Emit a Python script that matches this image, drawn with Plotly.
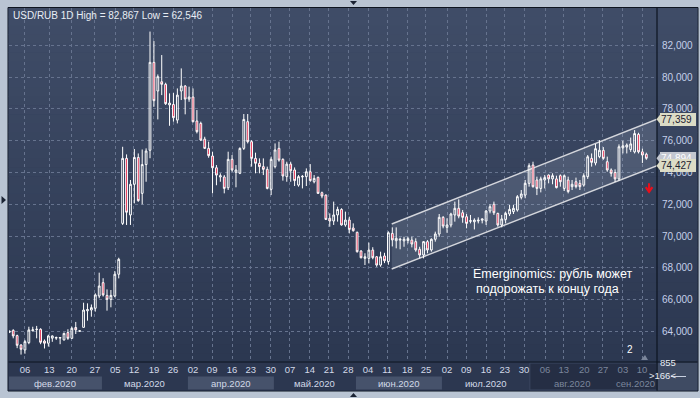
import numpy as np
import plotly.graph_objects as go

# ---------------- data ----------------
opens = [63.95, 64.07, 63.74, 63.15, 62.84, 63.30, 64.05, 64.12, 64.14, 63.40,
         63.26, 63.58, 63.58, 63.58, 63.47, 63.93, 63.57, 64.25, 64.01, 64.26,
         65.30, 65.35, 65.46, 66.23, 67.07, 66.27, 66.02, 66.23, 67.60, 70.80,
         74.89, 71.33, 73.26, 74.95, 72.69, 74.50, 75.40, 80.93, 79.13, 79.71,
         79.55, 78.25, 78.28, 77.30, 79.13, 79.44, 78.62, 78.75, 77.24, 77.09,
         76.10, 75.52, 75.04, 74.30, 73.72, 73.72, 73.04, 74.83, 74.01, 73.95,
         75.52, 77.20, 75.94, 74.89, 74.58, 74.37, 74.20, 72.94, 74.37, 75.52,
         74.83, 73.74, 74.53, 74.16, 73.21, 73.72, 73.74, 74.05, 73.42, 73.70,
         72.73, 72.58, 71.12, 70.95, 71.33, 71.68, 70.70, 71.01, 70.51, 70.24,
         69.06, 68.60, 68.60, 69.12, 68.70, 68.18, 68.75, 68.40, 70.17, 69.71,
         69.75, 69.70, 69.72, 69.75, 69.65, 69.17, 68.81, 69.65, 69.13, 69.80,
         70.13, 71.18, 70.55, 70.70, 71.33, 71.75, 71.47, 71.22, 70.93, 70.90,
         70.95, 71.00, 70.95, 71.58, 72.00, 71.43, 70.70, 71.05, 71.39, 71.54,
         71.64, 72.44, 72.58, 73.32, 74.47, 73.53, 73.00, 73.53, 73.84, 73.60,
         73.60, 73.80, 73.00, 73.53, 73.11, 73.42, 73.32, 73.21, 73.74, 74.89,
         74.60, 75.00, 75.40, 74.68, 74.16, 74.00, 73.60, 75.55, 75.60, 75.45,
         75.30, 76.40, 75.30, 75.15]
highs = [64.05, 64.14, 63.80, 63.20, 63.47, 64.30, 64.30, 64.35, 64.20, 63.50,
         63.80, 63.75, 63.68, 63.64, 63.93, 64.14, 64.30, 64.60, 64.05, 65.81,
         65.77, 65.70, 66.40, 67.70, 67.35, 66.65, 66.61, 67.80, 68.64, 75.62,
         75.14, 73.53, 75.48, 75.20, 75.45, 75.52, 82.867, 82.27, 80.17, 81.39,
         79.65, 78.98, 79.00, 79.29, 80.55, 79.50, 79.40, 79.29, 77.93, 77.20,
         76.25, 75.94, 75.31, 74.47, 73.95, 73.84, 75.31, 75.10, 74.47, 75.58,
         77.68, 77.68, 76.04, 75.25, 74.89, 74.89, 74.37, 75.00, 75.83, 75.94,
         74.89, 74.68, 74.68, 74.32, 73.84, 73.84, 74.26, 74.53, 73.84, 73.74,
         72.80, 72.62, 71.43, 72.17, 71.85, 71.75, 71.54, 71.22, 70.80, 70.28,
         69.12, 68.92, 69.59, 69.30, 68.75, 69.02, 68.95, 70.30, 70.55, 70.55,
         69.90, 69.96, 69.96, 69.96, 69.86, 69.33, 69.69, 69.75, 69.86, 70.28,
         71.39, 71.26, 71.12, 71.47, 72.17, 72.31, 71.64, 71.39, 71.33, 71.12,
         71.18, 71.10, 71.64, 72.00, 72.17, 71.47, 71.33, 71.54, 71.96, 71.96,
         72.58, 72.90, 73.53, 74.58, 74.68, 73.74, 73.74, 73.84, 73.88, 73.95,
         73.80, 73.88, 73.88, 73.74, 73.53, 73.68, 73.53, 73.95, 75.10, 75.20,
         75.80, 76.04, 75.60, 75.00, 74.26, 74.20, 75.77, 76.00, 75.83, 76.20,
         76.67, 76.50, 75.50, 75.25]
lows = [63.90, 63.57, 62.95, 62.546, 62.60, 63.20, 64.00, 63.57, 63.20, 62.93,
        63.05, 63.35, 63.47, 63.20, 63.43, 63.47, 63.53, 63.84, 64.00, 64.26,
        64.68, 64.93, 65.25, 66.09, 66.20, 65.31, 65.52, 66.15, 67.34, 70.70,
        70.70, 70.70, 72.06, 72.16, 72.00, 73.42, 74.90, 78.14, 77.34, 78.87,
        78.25, 76.94, 77.20, 77.09, 78.56, 77.66, 78.45, 77.15, 76.46, 75.98,
        75.48, 74.93, 72.69, 73.20, 73.42, 72.69, 72.90, 74.05, 73.07, 73.90,
        75.42, 75.83, 74.37, 73.95, 73.95, 73.84, 72.94, 72.58, 74.26, 74.68,
        73.49, 73.42, 73.42, 73.15, 73.11, 73.00, 73.15, 73.42, 73.32, 72.65,
        72.38, 71.01, 70.59, 70.70, 70.91, 70.66, 70.59, 70.17, 70.28, 68.96,
        68.60, 68.18, 68.28, 68.54, 68.07, 68.07, 68.30, 68.20, 69.35, 69.23,
        69.17, 69.33, 69.54, 69.29, 69.02, 68.60, 68.60, 68.92, 69.02, 69.65,
        69.96, 70.49, 70.21, 70.55, 70.91, 71.12, 70.84, 70.49, 70.80, 70.42,
        70.80, 70.80, 70.70, 71.43, 71.33, 70.59, 70.55, 70.80, 71.26, 71.39,
        71.54, 72.31, 72.38, 73.11, 73.05, 72.58, 72.75, 73.00, 73.32, 73.26,
        73.00, 73.11, 72.84, 72.69, 72.90, 73.00, 72.90, 73.11, 73.60, 74.37,
        74.45, 74.90, 74.80, 74.05, 73.74, 73.40, 73.47, 75.20, 75.20, 75.30,
        75.20, 75.20, 74.60, 74.80]
closes = [64.02, 63.72, 63.13, 62.88, 63.36, 64.10, 64.10, 64.14, 63.32, 63.26,
          63.72, 63.72, 63.62, 63.62, 63.88, 63.57, 64.20, 64.10, 64.04, 65.35,
          65.38, 65.50, 66.30, 66.86, 66.30, 66.02, 66.27, 67.60, 68.54, 74.89,
          71.50, 73.26, 74.95, 72.23, 74.50, 75.35, 80.93, 78.52, 80.03, 79.55,
          78.33, 78.37, 77.45, 78.87, 79.44, 78.62, 78.75, 77.20, 76.57, 76.04,
          75.52, 75.06, 74.30, 73.84, 73.80, 73.00, 74.83, 74.16, 74.16, 75.52,
          77.34, 75.94, 74.89, 74.58, 74.37, 74.20, 73.00, 74.83, 75.42, 74.78,
          73.78, 74.53, 74.11, 73.49, 73.74, 73.76, 74.05, 73.49, 73.63, 72.69,
          72.52, 71.05, 70.95, 71.33, 71.68, 70.70, 71.01, 70.42, 70.34, 69.02,
          68.64, 68.70, 69.12, 68.64, 68.18, 68.70, 68.45, 70.21, 69.76, 69.86,
          69.80, 69.80, 69.84, 69.50, 69.13, 68.81, 69.65, 69.13, 69.80, 70.13,
          71.18, 70.63, 70.70, 71.39, 71.75, 71.26, 71.18, 70.80, 70.97, 71.01,
          71.00, 71.08, 71.58, 71.85, 71.47, 70.70, 71.08, 71.43, 71.68, 71.75,
          72.48, 72.65, 73.32, 74.43, 73.11, 73.00, 73.60, 73.68, 73.60, 73.80,
          73.05, 73.42, 73.80, 72.80, 73.26, 73.11, 73.11, 73.80, 74.99, 74.64,
          75.50, 75.40, 74.89, 74.16, 73.95, 73.60, 75.62, 75.68, 75.73, 75.80,
          76.45, 75.30, 75.10, 74.894]

# weekly day labels (bar index where each label sits)
day_tick_pos = [4.0, 10.2, 16.0, 21.9, 27.1, 31.9, 37.0, 41.9, 47.0, 51.9,
                57.0, 61.8, 66.9, 71.8, 76.9, 81.8, 86.7, 91.8, 96.7, 101.8,
                106.6, 112.0, 116.9, 122.0, 126.8, 131.7, 137.1, 141.9, 147.1,
                151.9, 157.0, 161.9]
day_tick_labels = ["06", "13", "20", "27", "05", "12", "19", "26", "02", "09",
                   "16", "23", "30", "07", "14", "21", "28", "04", "11", "18",
                   "25", "02", "09", "16", "23", "30", "06", "13", "20", "27",
                   "03", "10"]
month_labels = ["фев.2020", "мар.2020", "апр.2020", "май.2020",
                "июн.2020", "июл.2020", "авг.2020", "сен.2020"]
month_edges = [-0.08, 23.7, 45.7, 67.7, 88.7, 110.7, 133.2, 154.7, 165.5]
dim_from = 133.2  # start of the greyed-out part of the time axis

y_ticks = [64, 66, 68, 70, 72, 74, 76, 78, 80, 82]

# trend channel drawn on the chart
channel_x = [97.85, 165.73]
channel_upper = [70.76, 77.359]
channel_lower = [67.93, 74.427]

# signal arrow (price level of its tail and tip)
signal_arrow = [73.33, 72.78]

# ---------------- geometry helpers ----------------
W, H = 700, 398
PL, PR, PT, PB = 9, 657, 8, 362


def px(xp):
    return (xp - PL) / (PR - PL)


def py(yp):
    return (PB - yp) / (PB - PT)


def fmt(v):
    return f"{v:.3f}".replace(".", ",")


n = len(closes)
xs = list(range(n))

fig = go.Figure()
fig.add_trace(go.Candlestick(
    x=xs, open=opens, high=highs, low=lows, close=closes,
    increasing=dict(line=dict(color="#ffffff", width=1), fillcolor="rgba(0,0,0,0)"),
    decreasing=dict(line=dict(color="#ffffff", width=1), fillcolor="#e3173d"),
    whiskerwidth=0, hoverinfo="skip", showlegend=False,
))

shapes = []
# dark panel
shapes.append(dict(type="rect", xref="paper", yref="paper",
                   x0=px(8), x1=px(698), y0=py(391), y1=py(7.5),
                   fillcolor="#2c3750", line=dict(color="#0d1420", width=1), layer="below"))
# vertical gradient background of chart + price panel
top = np.array([64, 77, 104])
bot = np.array([44, 56, 81])
steps = 40
for k in range(steps):
    t0 = PT + (PB - PT) * k / steps
    t1 = PT + (PB - PT) * (k + 1) / steps
    c = top + (bot - top) * (k + 0.5) / steps
    shapes.append(dict(type="rect", xref="paper", yref="paper",
                       x0=px(8.5), x1=px(697.5), y0=py(t1 + 0.5), y1=py(t0),
                       fillcolor=f"rgb({int(c[0])},{int(c[1])},{int(c[2])})",
                       line=dict(width=0), layer="below"))
# time axis background
shapes.append(dict(type="rect", xref="paper", yref="paper",
                   x0=px(8.5), x1=px(657), y0=py(390.5), y1=py(362),
                   fillcolor="#2c3750", line=dict(width=0), layer="below"))
# month bands (alternating)
for i in range(len(month_labels)):
    if i in (0, 2, 4):
        shapes.append(dict(type="rect", xref="x", yref="paper",
                           x0=month_edges[i], x1=month_edges[i + 1],
                           y0=py(389.5), y1=py(376.5),
                           fillcolor="#46526b", line=dict(width=0), layer="below"))
# dimmed part of the time axis
shapes.append(dict(type="rect", xref="x", yref="paper",
                   x0=dim_from, x1=month_edges[-1] + 0.2, y0=py(390), y1=py(363),
                   fillcolor="#252e44", line=dict(color="#3a4660", width=1), layer="below"))
# bottom-right counter box
shapes.append(dict(type="rect", xref="paper", yref="paper",
                   x0=px(657.5), x1=px(697.5), y0=py(390.5), y1=py(362.5),
                   fillcolor="#3f4b63", line=dict(width=0), layer="below"))
# separators
shapes.append(dict(type="line", xref="paper", yref="paper",
                   x0=px(8.5), x1=px(697.5), y0=py(362), y1=py(362),
                   line=dict(color="#0d1420", width=1)))
shapes.append(dict(type="line", xref="paper", yref="paper",
                   x0=px(657), x1=px(657), y0=py(390.5), y1=py(7.5),
                   line=dict(color="#0d1420", width=1.2)))
shapes.append(dict(type="line", xref="paper", yref="paper",
                   x0=px(671), x1=px(686), y0=py(376.5), y1=py(376.5),
                   line=dict(color="#c8d0e0", width=1)))
# trend channel
shapes.append(dict(type="path", xref="x", yref="y",
                   path=(f"M {channel_x[0]},{channel_lower[0]} L {channel_x[1]},{channel_lower[1]} "
                         f"L {channel_x[1]},{channel_upper[1]} L {channel_x[0]},{channel_upper[0]} Z"),
                   fillcolor="rgba(200,210,230,0.16)", line=dict(width=0), layer="between"))
for ys in (channel_upper, channel_lower):
    shapes.append(dict(type="line", xref="x", yref="y",
                       x0=channel_x[0], x1=channel_x[1], y0=ys[0], y1=ys[1],
                       line=dict(color="#d4d6dc", width=1.4), layer="between"))
# red signal arrow after the last bar
ax_ = n - 1 + 0.7
tail, tip = signal_arrow
head = tip + (tail - tip) * 0.55
shapes.append(dict(type="path", xref="x", yref="y",
                   path=(f"M {ax_},{tail} L {ax_},{tip} "
                         f"M {ax_ - 0.85},{head} L {ax_},{tip} L {ax_ + 0.85},{head}"),
                   line=dict(color="#e8101c", width=2.2)))
# small frame markers
shapes.append(dict(type="path", xref="paper", yref="paper",
                   path=f"M {px(350)},{py(1)} L {px(357)},{py(1)} L {px(353.5)},{py(5)} Z",
                   fillcolor="#1a2233", line=dict(width=0)))
shapes.append(dict(type="path", xref="paper", yref="paper",
                   path=f"M {px(350)},{py(397)} L {px(357)},{py(397)} L {px(353.5)},{py(393)} Z",
                   fillcolor="#1a2233", line=dict(width=0)))
shapes.append(dict(type="path", xref="paper", yref="paper",
                   path=f"M {px(1.5)},{py(196)} L {px(1.5)},{py(204)} L {px(6)},{py(200)} Z",
                   fillcolor="#1a2233", line=dict(width=0)))
shapes.append(dict(type="path", xref="paper", yref="paper",
                   path=f"M {px(641)},{py(360)} L {px(648)},{py(360)} L {px(645)},{py(355)} Z",
                   fillcolor="#7b869b", line=dict(width=0)))

annotations = []
title = f"USD/RUB 1D High = {fmt(max(highs))} Low = {fmt(min(lows))}"
annotations.append(dict(xref="paper", yref="paper", x=px(10.5), y=py(15.5),
                        xanchor="left", yanchor="middle", showarrow=False,
                        text=title, font=dict(family="Liberation Sans", size=10, color="#e8ecf4")))
annotations.append(dict(xref="paper", yref="paper", x=px(471), y=py(273.5),
                        xanchor="left", yanchor="middle", showarrow=False,
                        text="Emerginomics: рубль может",
                        font=dict(family="Liberation Sans", size=12.5, color="#ffffff")))
annotations.append(dict(xref="paper", yref="paper", x=px(474), y=py(288.5),
                        xanchor="left", yanchor="middle", showarrow=False,
                        text="подорожать к концу года",
                        font=dict(family="Liberation Sans", size=12.5, color="#ffffff")))
# price scale labels
for v in y_ticks:
    annotations.append(dict(xref="paper", yref="y", x=px(660), y=v,
                            xanchor="left", yanchor="middle", showarrow=False,
                            text=fmt(v), font=dict(family="Liberation Sans", size=10, color="#c4d0ea")))
# month labels
for i, lab in enumerate(month_labels):
    col = "#7b869c" if month_edges[i] >= dim_from else "#d2d9e8"
    annotations.append(dict(xref="x", yref="paper",
                            x=(month_edges[i] + month_edges[i + 1]) / 2, y=py(383),
                            xanchor="center", yanchor="middle", showarrow=False,
                            text=lab, font=dict(family="Liberation Sans", size=9.5, color=col)))
# counter box
annotations.append(dict(xref="paper", yref="paper", x=px(678), y=py(370), showarrow=False,
                        text="855", font=dict(family="Liberation Sans", size=9.5, color="#e8ecf4")))
annotations.append(dict(xref="paper", yref="paper", x=px(677.5), y=py(383.5), showarrow=False,
                        text="&gt;166&lt;", font=dict(family="Liberation Sans", size=9.5, color="#e8ecf4")))
annotations.append(dict(xref="paper", yref="paper", x=px(635), y=py(357), showarrow=False,
                        text="2", font=dict(family="Liberation Sans", size=10, color="#ffffff")))
# price tags on the right scale
tags = [(closes[-1], "#c3c7d0", "#ffffff"),
        (channel_upper[1], "#dcdcc6", "#1c2230"),
        (channel_lower[1], "#dcdcc6", "#1c2230")]
for val, bg, fc in tags:
    annotations.append(dict(xref="paper", yref="y", x=px(660), y=val,
                            xanchor="left", yanchor="middle", showarrow=False,
                            text=fmt(val), bgcolor=bg, borderwidth=0,
                            borderpad=1, width=34, align="left",
                            font=dict(family="Liberation Sans", size=10, color=fc)))
    shapes.append(dict(type="path", xref="paper", yref="y",
                       path=f"M {px(660.5)},{val + 0.33} L {px(656.5)},{val} L {px(660.5)},{val - 0.33} Z",
                       fillcolor=bg, line=dict(width=0)))

fig.update_layout(
    width=W, height=H,
    margin=dict(l=PL, r=W - PR, t=PT, b=H - PB),
    paper_bgcolor="#b9c4d3", plot_bgcolor="rgba(0,0,0,0)",
    showlegend=False, hovermode=False, boxgap=0.35,
    shapes=shapes, annotations=annotations,
    xaxis=dict(range=[-0.08, 165.73], tickvals=day_tick_pos,
               ticktext=[(f'<span style="color:#7b869c">{t}</span>' if p >= dim_from else t)
                         for p, t in zip(day_tick_pos, day_tick_labels)],
               showgrid=True, gridcolor="#66738e", gridwidth=1, griddash="3px,3px",
               zeroline=False, showline=False, ticks="",
               tickfont=dict(family="Liberation Sans", size=9.5, color="#d2d9e8"),
               rangeslider=dict(visible=False), fixedrange=True),
    yaxis=dict(side="right", range=[62.08, 84.35], tickvals=y_ticks,
               showticklabels=False,
               showgrid=True, gridcolor="#66738e", gridwidth=1, griddash="3px,3px",
               zeroline=False, showline=False, ticks="",
               fixedrange=True),
)

fig.write_html("out.html", config={"displayModeBar": False},
               post_script="document.body.style.margin='0px';document.body.style.overflow='hidden';")
